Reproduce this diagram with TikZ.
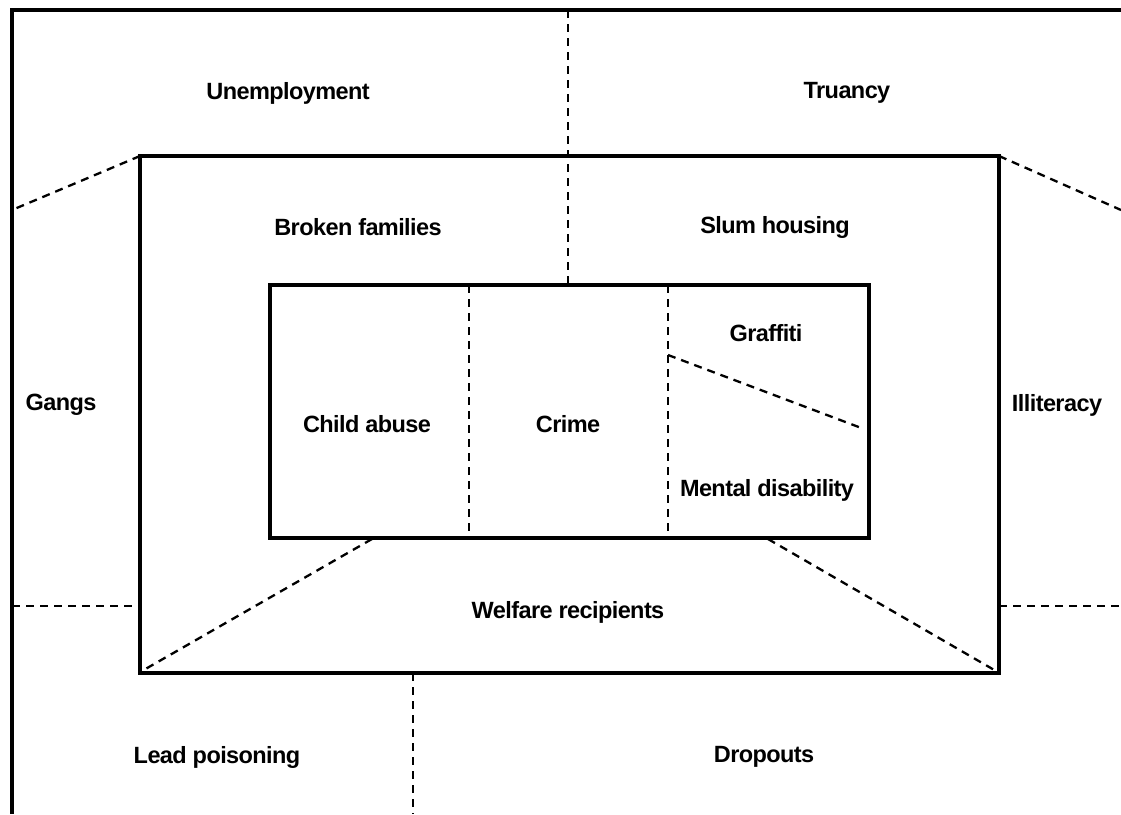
\documentclass[tikz,border=0pt]{standalone}
\usepackage{fontspec}
\setmainfont{Liberation Sans}[LetterSpace=-2.5]
\begin{document}
\begin{tikzpicture}[x=1pt,y=-1pt,
  frame/.style={line width=3.2pt},
  dline/.style={line width=2.3pt,dash pattern=on 8pt off 6pt},
  lbl/.style={font=\fontsize{23.5}{27}\selectfont\bfseries,inner sep=0pt}]
\useasboundingbox (0,0) rectangle (1121,814);
% outer frame
\coordinate (oTR) at (1121,10);
\coordinate (oTL) at (12,10);
\coordinate (oBL) at (12,814);
\draw[frame] (oTR) -- (oTL) -- (oBL);
% middle and inner rectangles
\coordinate (mTL) at (140,156);
\coordinate (mTR) at (999,156);
\coordinate (mBL) at (140,673);
\coordinate (mBR) at (999,673);
\draw[frame] (mTL) rectangle (mBR);
\coordinate (iTL) at (270,285);
\coordinate (iBR) at (869,538);
\draw[frame] (iTL) rectangle (iBR);
% dashed dividers
\coordinate (t1) at (568,10);   \coordinate (t2) at (568,285);
\coordinate (l1) at (12,210);   \coordinate (r1) at (1121,210);
\coordinate (l2) at (12,606);   \coordinate (l3) at (140,606);
\coordinate (r2) at (999,606);  \coordinate (r3) at (1121,606);
\coordinate (b1) at (413,673);  \coordinate (b2) at (413,814);
\coordinate (v1a) at (469,285); \coordinate (v1b) at (469,538);
\coordinate (v2a) at (668,285); \coordinate (v2b) at (668,538);
\coordinate (g1) at (668,355);  \coordinate (g2) at (864,429);
\coordinate (d1) at (372,539);  \coordinate (d2) at (142,671);
\coordinate (d3) at (768,539);  \coordinate (d4) at (996,671);
\draw[dline] (t1) -- (t2);
\draw[dline] (mTL) -- (l1);
\draw[dline] (mTR) -- (r1);
\draw[dline] (l2) -- (l3);
\draw[dline] (r2) -- (r3);
\draw[dline] (b1) -- (b2);
\draw[dline] (v1a) -- (v1b);
\draw[dline] (v2a) -- (v2b);
\draw[dline] (g1) -- (g2);
\draw[dline] (d1) -- (d2);
\draw[dline] (d3) -- (d4);
% labels
\node[lbl] (unemp) at (288,93) {Unemployment};
\node[lbl] (truan) at (847,93) {Truancy};
\node[lbl] (broken) at (358,227) {Broken families};
\node[lbl] (slum) at (775,227) {Slum housing};
\node[lbl] (gangs) at (61,405) {Gangs};
\node[lbl] (illit) at (1057,405) {Illiteracy};
\node[lbl] (child) at (367,424) {Child abuse};
\node[lbl] (crime) at (568,424) {Crime};
\node[lbl] (graff) at (766,333) {Graffiti};
\node[lbl] (mental) at (767,490) {Mental disability};
\node[lbl] (welf) at (568,612) {Welfare recipients};
\node[lbl] (lead) at (217,757) {Lead poisoning};
\node[lbl] (drop) at (764,757) {Dropouts};
\end{tikzpicture}
\end{document}
